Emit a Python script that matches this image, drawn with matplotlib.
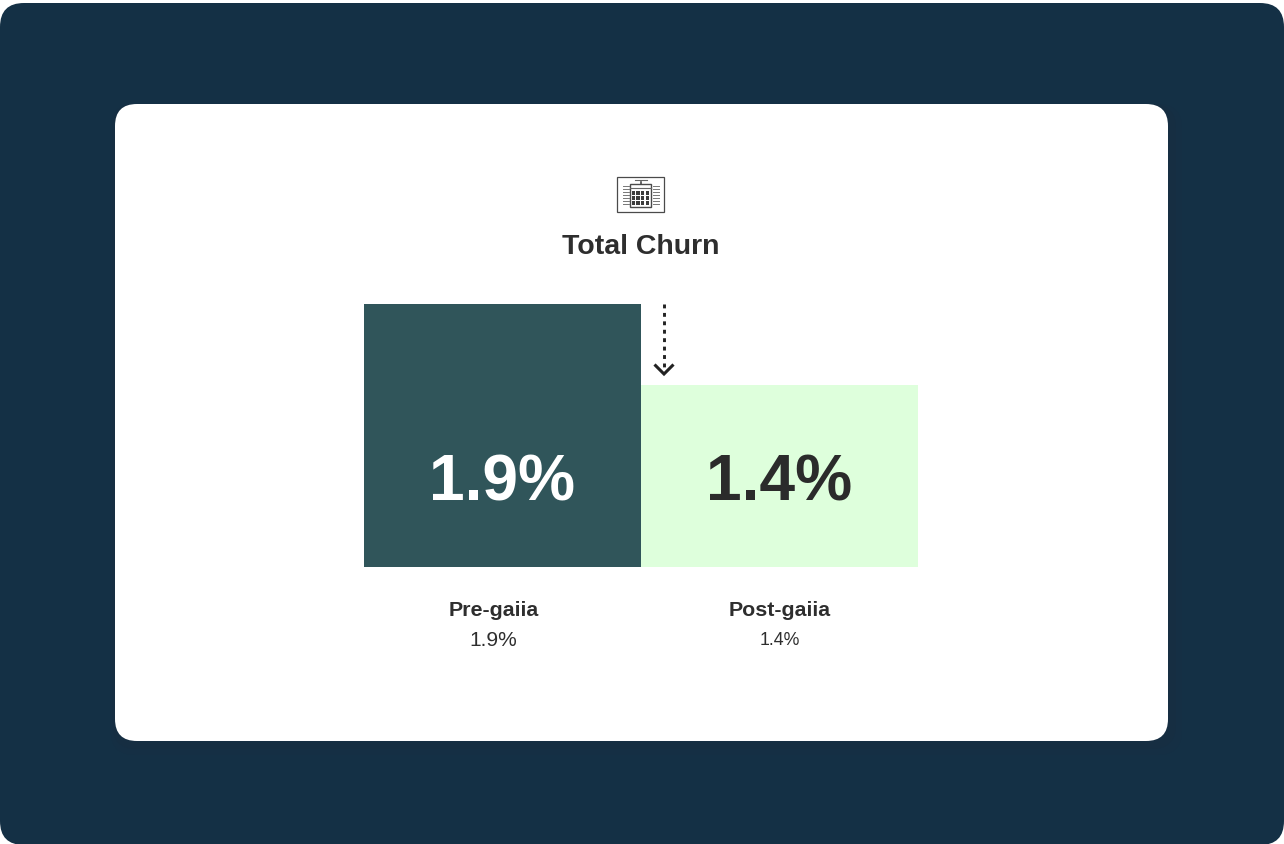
import matplotlib
matplotlib.use("Agg")
import matplotlib.pyplot as plt
from matplotlib.patches import FancyBboxPatch, Rectangle

plt.rcParams['font.family'] = ['Liberation Sans', 'DejaVu Sans']

# Data
categories = ["Pre-gaiia", "Post-gaiia"]
value_labels = ["1.9%", "1.4%"]
bar_heights = [1.9, 1.315]   # drawn heights as they appear in the picture
bar_colors = ["#30555A", "#DEFFDC"]
big_label_colors = ["#FFFFFF", "#2B2B2B"]
small_label_sizes = [15.1, 12.8]
title = "Total Churn"

W, H = 1284, 845
NAVY = "#143045"
INK = "#2E2E2E"

fig = plt.figure(figsize=(W / 100, H / 100), dpi=100, facecolor="white")

# Overlay in pixel coordinates for card chrome
bg = fig.add_axes([0, 0, 1, 1], zorder=0)
bg.set_xlim(0, W)
bg.set_ylim(H - 1, -1)
bg.axis("off")


def rounded(ax, x0, y0, x1, y1, r, color, **kw):
    ax.add_patch(FancyBboxPatch((x0 + r, y0 + r), x1 - x0 - 2 * r, y1 - y0 - 2 * r,
                                boxstyle=f"round,pad={r},rounding_size={r}",
                                fc=color, ec="none", **kw))


rounded(bg, 0, 3, W, 845, 24, NAVY)
# soft shadow beneath the white card
for grow, col in [(14, "#152F44"), (8, "#162E42")]:
    rounded(bg, 115 - grow * 0.3, 104, 1168 + grow, 741 + grow, 24, col)
rounded(bg, 115, 104, 1168, 741, 22, "white")

# Bars
ax = fig.add_axes([364 / W, 1 - 568 / H, (918 - 364) / W, (567 - 304) / H],
                  zorder=2, facecolor="none")
x = list(range(len(categories)))
ax.bar(x, bar_heights, width=1.0, color=bar_colors, linewidth=0)
ax.set_xlim(-0.5, 1.5)
ax.set_ylim(0, 1.9)
ax.axis("off")
big_y = 0.61
for i, lab in enumerate(value_labels):
    ax.text(i, big_y, lab, ha="center", va="center", fontsize=46.2,
            fontweight="bold", color=big_label_colors[i])

# Text and annotation overlay in pixel coordinates
ov = fig.add_axes([0, 0, 1, 1], zorder=3, facecolor="none")
ov.set_xlim(0, W)
ov.set_ylim(H - 1, -1)
ov.axis("off")

ov.text(641, 246, title, ha="center", va="center", fontsize=20.5,
        fontweight="bold", color=INK)
for cx, cat, val, fs in zip([493.3, 780], categories, value_labels, small_label_sizes):
    ov.text(cx, 610, cat, ha="center", va="center", fontsize=15.4,
            fontweight="bold", color=INK)
    ov.text(cx, 640, val, ha="center", va="center", fontsize=fs, color=INK)

# Dotted arrow
ov.plot([664, 664], [304, 368], color="#222222", lw=2.1, ls=(0, (1.33, 1.56)),
        dash_capstyle="butt")
ov.plot([654.5, 664, 673.5], [364.5, 374, 364.5], color="#222222", lw=2.2,
        solid_joinstyle="miter", solid_capstyle="butt")

# Calendar / dashboard icon
ic = "#4A4A4A"
ov.add_patch(Rectangle((617, 176.5), 47, 35, fc="white", ec=ic, lw=0.9))
ov.plot([634.5, 646.5], [180, 180], color="#666666", lw=0.8)
ov.add_patch(Rectangle((630, 183.5), 21, 23, fc="white", ec=ic, lw=1.0))
ov.plot([630, 651], [187.5, 187.5], color="#666666", lw=0.8)
ov.plot([640.5, 640.5], [181.5, 184], color=ic, lw=1.2)
for r in range(3):
    for c in range(4):
        ov.add_patch(Rectangle((631.8 + c * 4.6, 191 + r * 5), 3.3, 3.6, fc="#3C3C3C", ec="none"))
for k in range(7):
    yy = 185.5 + k * 3
    ov.plot([622.5, 628.5], [yy, yy], color="#777777", lw=0.7)
    ov.plot([652.5, 658.5], [yy, yy], color="#777777", lw=0.7)

fig.savefig("out.png", dpi=100, facecolor="white")
